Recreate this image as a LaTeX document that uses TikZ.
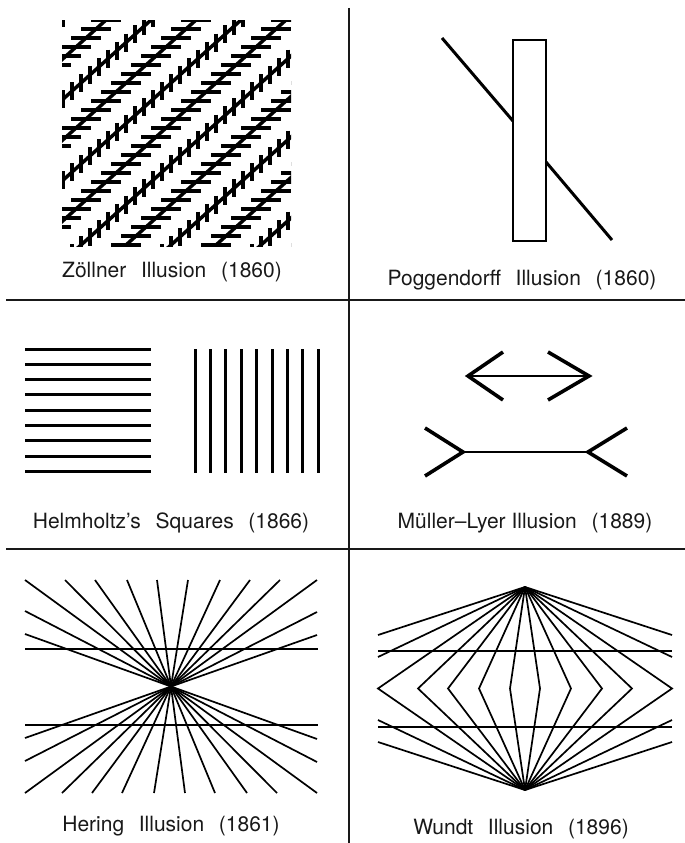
\documentclass[tikz,border=0pt]{standalone}
\usepackage{fontspec}
\setmainfont{TeX Gyre Heros}
\newcommand{\wsp}{\hspace{0.7em}}

\begin{document}
\begin{tikzpicture}[x=1pt, y=-1pt,
    rule/.style={line width=2.6pt, black!90},
    bar/.style={line width=3pt},
    tick/.style={line width=3.9pt},
    ray/.style={line width=1.7pt},
    fin/.style={line width=3.6pt, line join=miter},
    caption/.style={anchor=base, inner sep=0pt, text=black!90,
                    font=\fontsize{21}{25}\selectfont}
]
    \useasboundingbox (0,0) rectangle (685,843);

    % panel rules
    \draw[rule] (349,8) -- (349,843);
    \draw[rule] (6,300) -- (685,300);
    \draw[rule] (6,549) -- (685,549);

    % Zoellner
    \begin{scope}
        \clip (62,21) rectangle (291,246);
        \foreach \xo in {-279,-189,...,261} {
            \draw[bar, line width=3.5pt] ({\xo-30},272) -- ++(360,-324);
            \foreach \u in {-27,-18,...,360}
                \draw[tick] ({\xo+\u},{245-0.9*\u-9}) -- ++(0,18);
        }
        \foreach \xo in {-234,-144,...,306} {
            \draw[bar, line width=3.5pt] ({\xo-30},272) -- ++(360,-324);
            \foreach \u in {-30,-20,...,360}
                \draw[tick] ({\xo+\u-15},{245-0.9*\u}) -- ++(30,0);
        }
    \end{scope}

    % Poggendorff
    \draw[line width=2.4pt] (513,40) rectangle (546,241);
    \draw[bar] (442,38) -- (513,121);
    \draw[bar] (546,162) -- (612,240);

    % Helmholtz
    \foreach \i in {0,...,8} {
        \draw[bar] (25,{349+15.3*\i}) -- (151,{349+15.3*\i});
        \draw[bar] ({195+15.4*\i},349) -- ({195+15.4*\i},473);
    }

    % Mueller-Lyer
    \draw[line width=1.6pt] (468,376) -- (589,376);
    \draw[fin] (503,352) -- (468,376) -- (503,400);
    \draw[fin] (548,352) -- (589,376) -- (548,400);
    \draw[line width=2.6pt] (463,452) -- (588,452);
    \draw[fin] (425,428) -- (463,452) -- (425,476);
    \draw[fin] (627,428) -- (588,452) -- (627,476);

    % Hering
    \foreach \px/\py in {25/611, 25/634, 25/580, 65/580, 95/580, 127/580, 157/580,
                         188/580, 220/580, 250/580, 280/580, 317/580, 317/612, 317/635}
        \draw[ray] (\px,\py) -- ({342-\px},{1373-\py});
    \draw[ray] (25,649) -- (318,649);
    \draw[ray] (25,725) -- (318,725);

    % Wundt
    \foreach \dx in {-147,-107,-77,-46,-15,15,46,77,107,147}
        \draw[ray] (525,587) -- ({525+\dx},688.5) -- (525,790);
    \foreach \sx in {-1,1}
        \foreach \dy in {48,70} {
            \draw[ray] (525,587) -- ({525+147*\sx},{587+\dy});
            \draw[ray] (525,790) -- ({525+147*\sx},{790-\dy});
        }
    \draw[ray] (378,651) -- (672,651);
    \draw[ray] (378,727) -- (672,727);

    % captions
    \node[caption] (zoellner) at (172,277) {Zöllner\wsp Illusion\wsp (1860)};
    \node[caption] (poggen)   at (522,285) {Poggendorff\wsp Illusion\wsp (1860)};
    \node[caption] (helm)     at (171,528) {Helmholtz's\wsp Squares\wsp (1866)};
    \node[caption] (mueller)  at (525,528) {Müller--Lyer Illusion\wsp (1889)};
    \node[caption] (hering)   at (171,831) {Hering\wsp Illusion\wsp (1861)};
    \node[caption] (wundt)    at (521,834) {Wundt\wsp Illusion\wsp (1896)};
\end{tikzpicture}
\end{document}
